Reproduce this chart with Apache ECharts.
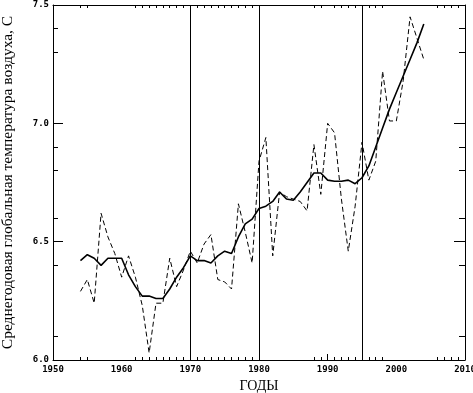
<!DOCTYPE html>
<html>
<head>
<meta charset="utf-8">
<script src="https://cdn.jsdelivr.net/npm/echarts@6/dist/echarts.min.js"></script>
<style>
  html, body { margin: 0; padding: 0; background: #fff; }
  #chart { width: 473px; height: 393px; }
</style>
</head>
<body>
<div id="chart"></div>
<script>
var chartDom = document.getElementById('chart');
var myChart = echarts.init(chartDom);

// years 1954..2004
var years = [];
for (var y = 1954; y <= 2004; y++) years.push(y);

// annual mean (dashed)
var annual = [
  6.29, 6.34, 6.24, 6.62, 6.52, 6.45, 6.35, 6.44, 6.35, 6.23,
  6.03, 6.24, 6.24, 6.43, 6.31, 6.38, 6.46, 6.41, 6.49, 6.53,
  6.34, 6.33, 6.30, 6.66, 6.54, 6.41, 6.84, 6.94, 6.44, 6.71,
  6.69, 6.68, 6.67, 6.63, 6.91, 6.70, 7.00, 6.96, 6.68, 6.46,
  6.65, 6.92, 6.76, 6.84, 7.22, 7.01, 7.01, 7.18, 7.45, 7.36,
  7.27
];

// smoothed (solid)
var smoothed = [
  6.42, 6.445, 6.43, 6.40, 6.43, 6.43, 6.43, 6.36, 6.31, 6.27,
  6.27, 6.26, 6.26, 6.30, 6.35, 6.39, 6.44, 6.42, 6.42, 6.41,
  6.44, 6.46, 6.45, 6.52, 6.575, 6.595, 6.64, 6.65, 6.67, 6.71,
  6.68, 6.675, 6.71, 6.75, 6.79, 6.79, 6.76, 6.755, 6.755, 6.76,
  6.745, 6.77, 6.82, 6.90, 6.98, 7.06, 7.13, 7.20, 7.27, 7.34,
  7.42
];

var markYears = [1970, 1980, 1995];
var xMinorTicks = [1954, 1955, 1962, 1963, 1964, 1965, 1966, 1967, 1968, 1969,
  1971, 1972, 1973, 1974, 1975, 1976, 1977, 1978, 1979,
  1988, 1989, 1991, 1992, 1993, 1994, 1996, 1997, 1998,
  2006, 2007, 2008, 2009];
var yMinorTicks = [6.1, 6.4, 6.6, 6.8, 6.9, 7.3, 7.4];

var labelFont = { fontFamily: 'DejaVu Sans Mono', fontWeight: 'bold', fontSize: 9, color: '#000' };
var blackLine = { lineStyle: { color: '#000', width: 1 } };

function pairs(vals) {
  return years.map(function (yr, i) { return [yr, vals[i]]; });
}

var option = {
  animation: false,
  backgroundColor: '#fff',
  grid: { left: 53, right: 8, top: 5, bottom: 33, containLabel: false, outerBoundsMode: 'none' },
  xAxis: [
    {
      type: 'value', min: 1950, max: 2010, interval: 10, position: 'bottom',
      name: 'ГОДЫ', nameLocation: 'middle', nameGap: 17,
      nameTextStyle: { fontFamily: 'Liberation Serif', fontSize: 14, color: '#000' },
      axisLine: blackLine,
      axisTick: { inside: true, length: 6, customValues: [1990], lineStyle: { color: '#000' } },
      axisLabel: Object.assign({ margin: 5, formatter: function (v) { return String(v); } }, labelFont),
      splitLine: { show: false }
    },
    {
      type: 'value', min: 1950, max: 2010, position: 'bottom',
      axisLine: { show: false },
      axisTick: { inside: true, length: 3, customValues: xMinorTicks, lineStyle: { color: '#000' } },
      axisLabel: { show: false },
      splitLine: { show: false }
    },
    {
      type: 'value', min: 1950, max: 2010, position: 'top',
      axisLine: blackLine,
      axisTick: { inside: true, length: 3, customValues: xMinorTicks, lineStyle: { color: '#000' } },
      axisLabel: { show: false },
      splitLine: { show: false }
    }
  ],
  yAxis: [
    {
      type: 'value', min: 6.0, max: 7.5, interval: 0.5, position: 'left',
      name: 'Среднегодовая глобальная температура воздуха, С',
      nameLocation: 'middle', nameGap: 37,
      nameTextStyle: { fontFamily: 'Liberation Serif', fontSize: 15.5, color: '#000' },
      axisLine: blackLine,
      axisTick: { inside: true, length: 10, lineStyle: { color: '#000' } },
      axisLabel: Object.assign({ margin: 4, formatter: function (v) { return v.toFixed(1); } }, labelFont),
      splitLine: { show: false }
    },
    {
      type: 'value', min: 6.0, max: 7.5, position: 'left',
      axisLine: { show: false },
      axisTick: { inside: true, length: 5, customValues: yMinorTicks, lineStyle: { color: '#000' } },
      axisLabel: { show: false },
      splitLine: { show: false }
    },
    {
      type: 'value', min: 6.0, max: 7.5, interval: 0.5, position: 'right',
      axisLine: blackLine,
      axisTick: { inside: true, length: 11, lineStyle: { color: '#000' } },
      axisLabel: { show: false },
      splitLine: { show: false }
    },
    {
      type: 'value', min: 6.0, max: 7.5, position: 'right',
      axisLine: { show: false },
      axisTick: { inside: true, length: 6, customValues: yMinorTicks, lineStyle: { color: '#000' } },
      axisLabel: { show: false },
      splitLine: { show: false }
    }
  ],
  series: [
    {
      type: 'line',
      xAxisIndex: 0, yAxisIndex: 0,
      data: pairs(annual),
      showSymbol: false,
      lineStyle: { color: '#000', width: 1, type: [5, 3] },
      markLine: {
        silent: true,
        symbol: ['none', 'none'],
        label: { show: false },
        lineStyle: { color: '#000', width: 1, type: 'solid' },
        data: markYears.map(function (yr) { return { xAxis: yr }; })
      }
    },
    {
      type: 'line',
      xAxisIndex: 0, yAxisIndex: 0,
      data: pairs(smoothed),
      showSymbol: false,
      lineStyle: { color: '#000', width: 1.6 }
    }
  ]
};

myChart.setOption(option);
</script>
</body>
</html>
